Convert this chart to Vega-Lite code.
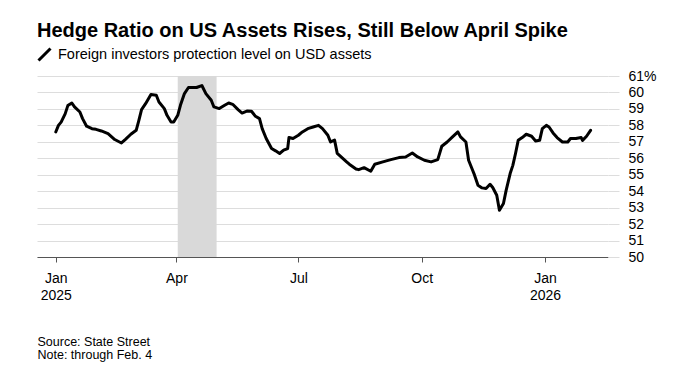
{
  "$schema": "https://vega.github.io/schema/vega-lite/v6.json",
  "width": 571,
  "height": 181,
  "autosize": {"type": "none"},
  "padding": {"left": 37, "top": 76, "right": 76, "bottom": 121},
  "background": "white",
  "config": {
    "font": "Liberation Sans",
    "view": {"stroke": null},
    "axis": {"labelFont": "Liberation Sans", "titleFont": "Liberation Sans"}
  },
  "title": {
    "text": "Hedge Ratio on US Assets Rises, Still Below April Spike",
    "anchor": "start",
    "frame": "group",
    "fontSize": 20,
    "fontWeight": "bold",
    "color": "#000000",
    "offset": 6
  },
  "layer": [
    {
      "data": {"values": [{"start": "2025-04-02", "end": "2025-05-01"}]},
      "mark": {"type": "rect", "color": "#d9d9d9"},
      "encoding": {
        "x": {"field": "start", "type": "temporal"},
        "x2": {"field": "end"}
      }
    },
    {
      "data": {
        "values": [
          {"date": "2025-01-01", "value": 57.6},
          {"date": "2025-01-03", "value": 58.0},
          {"date": "2025-01-05", "value": 58.2},
          {"date": "2025-01-08", "value": 58.7},
          {"date": "2025-01-10", "value": 59.2},
          {"date": "2025-01-13", "value": 59.36},
          {"date": "2025-01-15", "value": 59.12},
          {"date": "2025-01-19", "value": 58.81},
          {"date": "2025-01-21", "value": 58.41},
          {"date": "2025-01-24", "value": 57.95},
          {"date": "2025-01-28", "value": 57.8},
          {"date": "2025-01-31", "value": 57.76},
          {"date": "2025-02-04", "value": 57.66},
          {"date": "2025-02-09", "value": 57.5},
          {"date": "2025-02-14", "value": 57.14},
          {"date": "2025-02-19", "value": 56.93},
          {"date": "2025-02-22", "value": 57.15},
          {"date": "2025-02-26", "value": 57.46},
          {"date": "2025-03-02", "value": 57.7},
          {"date": "2025-03-04", "value": 58.31},
          {"date": "2025-03-06", "value": 58.96},
          {"date": "2025-03-09", "value": 59.32},
          {"date": "2025-03-13", "value": 59.87},
          {"date": "2025-03-17", "value": 59.83},
          {"date": "2025-03-19", "value": 59.42},
          {"date": "2025-03-23", "value": 59.02},
          {"date": "2025-03-25", "value": 58.61},
          {"date": "2025-03-28", "value": 58.21},
          {"date": "2025-03-30", "value": 58.21},
          {"date": "2025-04-02", "value": 58.61},
          {"date": "2025-04-04", "value": 59.22},
          {"date": "2025-04-07", "value": 59.93},
          {"date": "2025-04-10", "value": 60.3},
          {"date": "2025-04-16", "value": 60.3},
          {"date": "2025-04-20", "value": 60.42},
          {"date": "2025-04-23", "value": 59.93},
          {"date": "2025-04-27", "value": 59.53},
          {"date": "2025-04-29", "value": 59.12},
          {"date": "2025-05-03", "value": 59.02},
          {"date": "2025-05-07", "value": 59.22},
          {"date": "2025-05-10", "value": 59.36},
          {"date": "2025-05-13", "value": 59.28},
          {"date": "2025-05-17", "value": 58.96},
          {"date": "2025-05-20", "value": 58.75},
          {"date": "2025-05-24", "value": 58.88},
          {"date": "2025-05-27", "value": 58.86},
          {"date": "2025-05-30", "value": 58.55},
          {"date": "2025-06-02", "value": 58.41},
          {"date": "2025-06-04", "value": 57.8},
          {"date": "2025-06-07", "value": 57.2},
          {"date": "2025-06-11", "value": 56.59},
          {"date": "2025-06-14", "value": 56.45},
          {"date": "2025-06-17", "value": 56.29},
          {"date": "2025-06-20", "value": 56.49},
          {"date": "2025-06-23", "value": 56.59},
          {"date": "2025-06-24", "value": 57.26},
          {"date": "2025-06-27", "value": 57.2},
          {"date": "2025-07-01", "value": 57.4},
          {"date": "2025-07-04", "value": 57.6},
          {"date": "2025-07-08", "value": 57.8},
          {"date": "2025-07-12", "value": 57.9},
          {"date": "2025-07-16", "value": 58.0},
          {"date": "2025-07-19", "value": 57.8},
          {"date": "2025-07-23", "value": 57.4},
          {"date": "2025-07-25", "value": 56.99},
          {"date": "2025-07-28", "value": 57.1},
          {"date": "2025-07-30", "value": 56.3},
          {"date": "2025-08-06", "value": 55.78},
          {"date": "2025-08-08", "value": 55.64},
          {"date": "2025-08-13", "value": 55.35},
          {"date": "2025-08-15", "value": 55.31},
          {"date": "2025-08-19", "value": 55.43},
          {"date": "2025-08-24", "value": 55.21},
          {"date": "2025-08-27", "value": 55.64},
          {"date": "2025-09-02", "value": 55.78},
          {"date": "2025-09-08", "value": 55.92},
          {"date": "2025-09-14", "value": 56.04},
          {"date": "2025-09-19", "value": 56.08},
          {"date": "2025-09-24", "value": 56.32},
          {"date": "2025-09-28", "value": 56.08},
          {"date": "2025-10-03", "value": 55.88},
          {"date": "2025-10-08", "value": 55.78},
          {"date": "2025-10-13", "value": 55.92},
          {"date": "2025-10-16", "value": 56.73},
          {"date": "2025-10-20", "value": 56.99},
          {"date": "2025-10-24", "value": 57.3},
          {"date": "2025-10-28", "value": 57.6},
          {"date": "2025-10-30", "value": 57.3},
          {"date": "2025-11-03", "value": 56.99},
          {"date": "2025-11-05", "value": 55.88},
          {"date": "2025-11-08", "value": 55.27},
          {"date": "2025-11-09", "value": 55.07},
          {"date": "2025-11-12", "value": 54.36},
          {"date": "2025-11-15", "value": 54.2},
          {"date": "2025-11-18", "value": 54.16},
          {"date": "2025-11-21", "value": 54.42},
          {"date": "2025-11-23", "value": 54.22},
          {"date": "2025-11-26", "value": 53.75},
          {"date": "2025-11-28", "value": 52.84},
          {"date": "2025-12-01", "value": 53.25},
          {"date": "2025-12-03", "value": 54.05},
          {"date": "2025-12-06", "value": 55.07},
          {"date": "2025-12-08", "value": 55.57},
          {"date": "2025-12-10", "value": 56.29},
          {"date": "2025-12-12", "value": 57.09},
          {"date": "2025-12-15", "value": 57.26},
          {"date": "2025-12-18", "value": 57.46},
          {"date": "2025-12-22", "value": 57.34},
          {"date": "2025-12-25", "value": 57.05},
          {"date": "2025-12-28", "value": 57.09},
          {"date": "2025-12-30", "value": 57.8},
          {"date": "2026-01-02", "value": 58.0},
          {"date": "2026-01-04", "value": 57.9},
          {"date": "2026-01-07", "value": 57.54},
          {"date": "2026-01-10", "value": 57.26},
          {"date": "2026-01-14", "value": 56.99},
          {"date": "2026-01-18", "value": 56.99},
          {"date": "2026-01-20", "value": 57.2},
          {"date": "2026-01-24", "value": 57.2},
          {"date": "2026-01-28", "value": 57.26},
          {"date": "2026-01-29", "value": 57.09},
          {"date": "2026-02-01", "value": 57.34},
          {"date": "2026-02-04", "value": 57.7}
        ]
      },
      "mark": {"type": "line", "strokeWidth": 3, "strokeJoin": "round", "strokeCap": "round"},
      "encoding": {
        "x": {
          "field": "date",
          "type": "temporal",
          "scale": {
            "type": "utc",
            "domain": [
              {"year": 2024, "month": 12, "date": 18, "utc": true},
              {"year": 2026, "month": 2, "date": 17, "utc": true}
            ]
          },
          "axis": {
            "values": [
              {"year": 2025, "month": 1, "date": 1, "utc": true},
              {"year": 2025, "month": 4, "date": 1, "utc": true},
              {"year": 2025, "month": 7, "date": 1, "utc": true},
              {"year": 2025, "month": 10, "date": 1, "utc": true},
              {"year": 2026, "month": 1, "date": 1, "utc": true}
            ],
            "labelExpr": "utcmonth(datum.value) == 0 ? [utcFormat(datum.value, '%b'), utcFormat(datum.value, '%Y')] : utcFormat(datum.value, '%b')",
            "labelFontSize": 14,
            "labelColor": "#000000",
            "labelLineHeight": 17.5,
            "labelPadding": 9,
            "labelFlush": false,
            "labelOverlap": false,
            "grid": false,
            "domainColor": "#555555",
            "domainWidth": 1,
            "tickColor": "#555555",
            "tickSize": 5,
            "title": ["Source: State Street", "Note: through Feb. 4"],
            "titleFontSize": 12.5,
            "titleFontWeight": "normal",
            "titleColor": "#000000",
            "titleLineHeight": 12.5,
            "titleAnchor": "start",
            "titleAlign": "left",
            "titlePadding": 33
          }
        },
        "y": {
          "field": "value",
          "type": "quantitative",
          "scale": {"domain": [50, 61], "nice": false, "zero": false},
          "axis": {
            "orient": "right",
            "values": [50, 51, 52, 53, 54, 55, 56, 57, 58, 59, 60, 61],
            "labelExpr": "datum.value == 61 ? '61%' : datum.value",
            "labelFontSize": 14,
            "labelColor": "#000000",
            "labelAlign": "left",
            "labelPadding": 9,
            "grid": true,
            "gridColor": "#dddddd",
            "gridWidth": 1,
            "tickColor": "#dddddd",
            "tickSize": 11,
            "domain": false,
            "title": null
          }
        },
        "stroke": {
          "datum": "Foreign investors protection level on USD assets",
          "type": "nominal",
          "scale": {"range": ["#000000"]},
          "legend": {
            "orient": "top",
            "title": null,
            "padding": 0,
            "offset": 9,
            "symbolType": "M-1,1L1,-1",
            "symbolSize": 144,
            "symbolStrokeWidth": 3,
            "symbolStrokeColor": "#000000",
            "labelFontSize": 14.5,
            "labelColor": "#000000",
            "labelOffset": 6,
            "labelLimit": 0
          }
        }
      }
    }
  ]
}
